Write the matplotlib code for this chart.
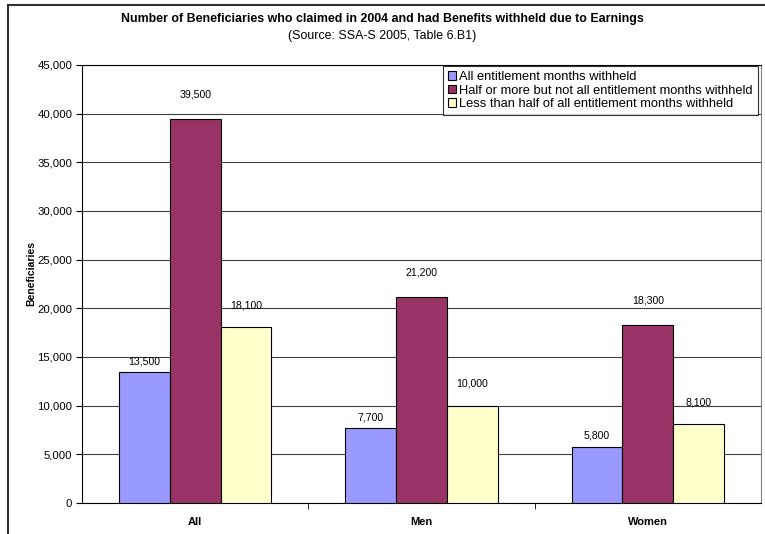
import matplotlib.pyplot as plt
from matplotlib.lines import Line2D
from matplotlib.patches import Patch
import numpy as np

plt.rcParams['font.family'] = ['Liberation Sans', 'DejaVu Sans']

categories = ['All', 'Men', 'Women']
series_names = [
    'All entitlement months withheld',
    'Half or more but not all entitlement months withheld',
    'Less than half of all entitlement months withheld',
]
all_withheld = [13500, 7700, 5800]
half_or_more = [39500, 21200, 18300]
less_than_half = [18100, 10000, 8100]

colors = ['#9999FF', '#993366', '#FFFFCC']
label_offsets = [4, 14, 12]

fig = plt.figure(figsize=(7.65, 5.34), dpi=100)
ax = fig.add_axes([82 / 765, 1 - 503 / 534, 679 / 765, 438 / 534])

x = np.arange(len(categories))
width = 0.224
for i, (vals, col) in enumerate(zip([all_withheld, half_or_more, less_than_half], colors)):
    pos = x + (i - 1) * width
    ax.bar(pos, vals, width=width, color=col, edgecolor='black', linewidth=0.8,
           label=series_names[i], zorder=3)
    for px, v in zip(pos, vals):
        ax.annotate(f'{v:,}', (px, v), xytext=(0, label_offsets[i]),
                    textcoords='offset points', ha='center', va='bottom', fontsize=7.6)

ax.set_xlim(-0.5, 2.5)
ax.set_ylim(0, 45000)
ax.set_yticks(range(0, 45001, 5000))
ax.set_yticklabels([f'{t:,}' for t in range(0, 45001, 5000)], fontsize=8.2)
ax.yaxis.grid(True, color='#404040', linewidth=0.8, zorder=0)

ax.set_xticks(x)
ax.set_xticklabels(categories, fontsize=8, fontweight='bold')
ax.tick_params(axis='x', length=0, pad=10)
ax.set_xticks([0.5, 1.5], minor=True)
ax.tick_params(axis='x', which='minor', length=4, direction='out')
ax.tick_params(axis='y', length=4, direction='out', pad=3)

for s in ax.spines.values():
    s.set_color('black')
    s.set_linewidth(0.8)
ax.spines['right'].set_color('#808080')

ax.set_ylabel('Beneficiaries', fontsize=7.5, fontweight='bold')
ax.yaxis.set_label_coords(-0.068, 0.523)

handles = [Patch(facecolor=c, edgecolor='black', linewidth=0.8) for c in colors]
leg = ax.legend(handles, series_names, loc='upper right', bbox_to_anchor=(0.9955, 0.998),
                fontsize=9.3, frameon=True, fancybox=False, edgecolor='black',
                handlelength=0.6, handleheight=0.6, handletextpad=0.25,
                labelspacing=0.12, borderpad=0.4, borderaxespad=0)
leg.get_frame().set_linewidth(0.8)

fig.text(0.5, 1 - 19 / 534, 'Number of Beneficiaries who claimed in 2004 and had Benefits withheld due to Earnings',
         ha='center', va='center', fontsize=8.9, fontweight='bold')
fig.text(0.5, 1 - 36 / 534, '(Source: SSA-S 2005, Table 6.B1)',
         ha='center', va='center', fontsize=8.9)

# outer chart border (cropped at right and bottom)
fig.add_artist(Line2D([8 / 765, 8 / 765], [0, 1 - 5 / 534], color='#303030', linewidth=1.5))
fig.add_artist(Line2D([8 / 765, 1], [1 - 5 / 534, 1 - 5 / 534], color='#303030', linewidth=1.5))

fig.savefig('out.png', dpi=100)
